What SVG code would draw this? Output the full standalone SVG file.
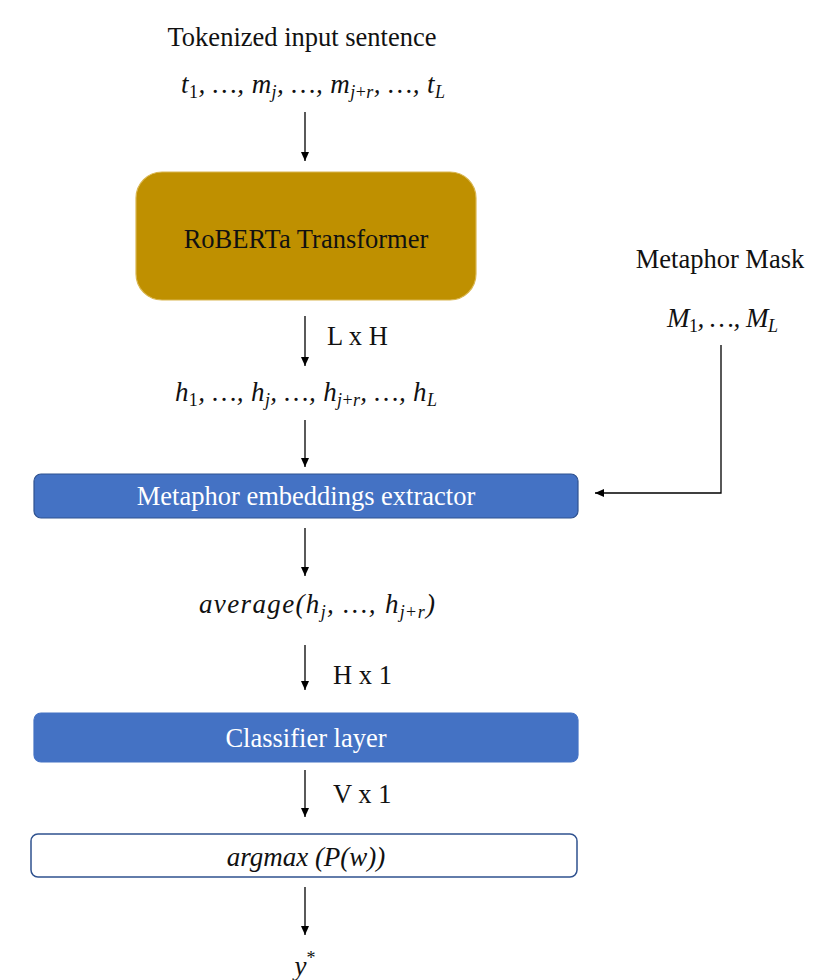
<svg xmlns="http://www.w3.org/2000/svg" width="833" height="980" viewBox="0 0 833 980">
<defs>
<marker id="ah" markerUnits="userSpaceOnUse" markerWidth="10" markerHeight="10" refX="9" refY="5" orient="auto">
<path d="M0,1 L9,5 L0,9 Z" fill="#000"/>
</marker>
<style>
.t{font-family:"Liberation Serif","Times New Roman",serif;font-size:26.5px;fill:#111}
.m{font-family:"Liberation Serif","Times New Roman",serif;font-size:27px;font-style:italic;fill:#111}
.s{font-size:18px}
.u{font-style:normal}
.w{fill:#fff}
.ln{stroke:#000;stroke-width:1.3;fill:none}
</style>
</defs>
<rect width="833" height="980" fill="#fff"/>

<g id="input">
<text class="t" x="302" y="46" text-anchor="middle">Tokenized input sentence</text>
<text class="m" x="181" y="93" textLength="264" lengthAdjust="spacing">t<tspan class="s u" dy="5">1</tspan><tspan dy="-5">, …, m</tspan><tspan class="s" dy="5">j</tspan><tspan dy="-5">, …, m</tspan><tspan class="s" dy="5">j<tspan class="u">+</tspan>r</tspan><tspan dy="-5">, …, t</tspan><tspan class="s" dy="5">L</tspan></text>
</g>

<g id="roberta">
<rect x="136" y="172" width="340" height="128" rx="26" fill="#BF9000" stroke="#D9B650" stroke-width="1.2"/>
<text class="t" x="306" y="248" text-anchor="middle">RoBERTa Transformer</text>
</g>

<g id="mask">
<text class="t" x="720" y="268" text-anchor="middle">Metaphor Mask</text>
<text class="m" x="667" y="327" textLength="111" lengthAdjust="spacing">M<tspan class="s u" dy="5">1</tspan><tspan dy="-5">, …, M</tspan><tspan class="s" dy="5">L</tspan></text>
</g>

<g id="hidden">
<text class="m" x="175" y="401" textLength="262" lengthAdjust="spacing">h<tspan class="s u" dy="5">1</tspan><tspan dy="-5">, …, h</tspan><tspan class="s" dy="5">j</tspan><tspan dy="-5">, …, h</tspan><tspan class="s" dy="5">j<tspan class="u">+</tspan>r</tspan><tspan dy="-5">, …, h</tspan><tspan class="s" dy="5">L</tspan></text>
</g>

<g id="extractor">
<rect x="34" y="474" width="544" height="44" rx="7" fill="#4472C4" stroke="#2F528F" stroke-width="1.2"/>
<text class="t w" x="306" y="505" text-anchor="middle">Metaphor embeddings extractor</text>
</g>

<g id="average">
<text class="m" x="199" y="613" textLength="236" lengthAdjust="spacing">average(h<tspan class="s" dy="5">j</tspan><tspan dy="-5">, …, h</tspan><tspan class="s" dy="5">j<tspan class="u">+</tspan>r</tspan><tspan dy="-5">)</tspan></text>
</g>

<g id="classifier">
<rect x="34" y="713" width="544" height="49" rx="7" fill="#4472C4" stroke="#4472C4" stroke-width="1.2"/>
<text class="t w" x="306" y="747" text-anchor="middle">Classifier layer</text>
</g>

<g id="argmax">
<rect x="31" y="834" width="546" height="43" rx="7" fill="#fff" stroke="#2F528F" stroke-width="1.5"/>
<text class="m" x="306" y="866" text-anchor="middle">argmax (P(w))</text>
</g>

<g id="output">
<text class="m" x="305" y="975" text-anchor="middle">y<tspan class="s u" dy="-11">*</tspan></text>
</g>

<g id="connectors">
<line class="ln" x1="305" y1="112" x2="305" y2="161" marker-end="url(#ah)"/>
<line class="ln" x1="305" y1="316" x2="305" y2="366" marker-end="url(#ah)"/>
<text class="t" x="327" y="345">L x H</text>
<line class="ln" x1="305" y1="420" x2="305" y2="467" marker-end="url(#ah)"/>
<polyline class="ln" points="721,345 721,493 595,493" marker-end="url(#ah)"/>
<line class="ln" x1="305" y1="528" x2="305" y2="576" marker-end="url(#ah)"/>
<line class="ln" x1="305" y1="645" x2="305" y2="690" marker-end="url(#ah)"/>
<text class="t" x="333" y="684">H x 1</text>
<line class="ln" x1="305" y1="770" x2="305" y2="817" marker-end="url(#ah)"/>
<text class="t" x="333" y="803">V x 1</text>
<line class="ln" x1="305" y1="887" x2="305" y2="935" marker-end="url(#ah)"/>
</g>
</svg>
